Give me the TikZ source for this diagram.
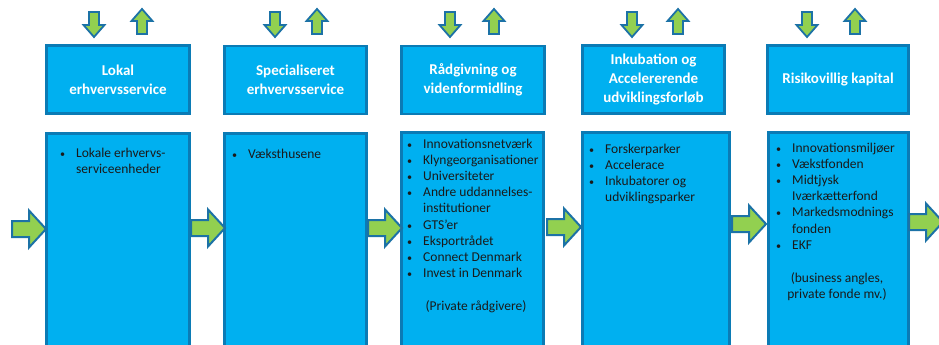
\documentclass[tikz,border=0pt]{standalone}
\usepackage{fontspec}
\setmainfont{Carlito}
\usetikzlibrary{calc}
\definecolor{boxfill}{HTML}{00B0F0}
\definecolor{boxline}{HTML}{0B7BB5}
\definecolor{arrfill}{HTML}{92D050}
\definecolor{arrline}{HTML}{1C72A6}
\definecolor{txt}{HTML}{1A1A1A}
\newcommand{\bul}{\makebox[17pt][l]{\hspace{1pt}\scalebox{0.75}{•}}}
\newcommand{\ind}{\makebox[17pt][l]{}}
\tikzset{
  headbox/.style={draw=boxline, fill=boxfill, line width=2.5pt, minimum height=68pt,
    inner sep=0pt, font=\bfseries\fontsize{15}{19}\selectfont, text=white, align=center},
  listbox/.style={draw=boxline, fill=boxfill, line width=2.5pt, inner sep=0pt},
  listtext/.style={anchor=base west, inner sep=0pt, font=\fontsize{13.5}{16.2}\selectfont,
    text=txt, align=left},
  notetext/.style={anchor=base, inner sep=0pt, font=\fontsize{13.5}{16.5}\selectfont,
    text=txt},
  pics/rarrow/.style={code={
    \draw[line width=2pt, draw=arrline, fill=arrfill, line join=miter]
      (0,-8) -- (17,-8) -- (17,-18.5) -- (34,0) -- (17,18.5) -- (17,8) -- (0,8) -- cycle;}},
  pics/varrow/.style={code={
    \draw[line width=1.8pt, draw=arrline, fill=arrfill, line join=miter]
      (0,-5) -- (13,-5) -- (13,-10.5) -- (25,0) -- (13,10.5) -- (13,5) -- (0,5) -- cycle;}},
}
\begin{document}
\begin{tikzpicture}[x=1pt, y=-1pt]
\useasboundingbox (0,0) rectangle (939,345);
\clip (0,0) rectangle (939,345);

% header boxes
\node[headbox, minimum width=143pt] (h1) at (118,79.5) {Lokal\\erhvervsservice};
\node[headbox, minimum width=142pt] (h2) at (295.5,80) {Specialiseret\\erhvervsservice};
\node[headbox, minimum width=143pt] (h3) at (473,80) {Rådgivning og\\videnformidling};
\node[headbox, minimum width=142pt] (h4) at (653.5,79.5) {Inkubation og\\Accelererende\\udviklingsforløb};
\node[headbox, minimum width=141pt] (h5) at (838,79.5) {Risikovillig kapital};

% list boxes
\node[listbox, minimum width=143pt, minimum height=240pt, anchor=north] (b1) at (118,132) {};
\node[listbox, minimum width=142pt, minimum height=240pt, anchor=north] (b2) at (295.5,132) {};
\node[listbox, minimum width=142pt, minimum height=240pt, anchor=north] (b3) at (472.5,131) {};
\node[listbox, minimum width=147pt, minimum height=240pt, anchor=north] (b4) at (656,131) {};
\node[listbox, minimum width=140pt, minimum height=240pt, anchor=north] (b5) at (838.5,131) {};

% list texts
\node[listtext] (t1) at (59,157) {\begin{tabular}[t]{@{}l@{}}
\bul Lokale erhvervs-\\ \ind serviceenheder\end{tabular}};
\node[listtext] (t2) at (231,158) {\begin{tabular}[t]{@{}l@{}}
\bul Væksthusene\end{tabular}};
\node[listtext] (t3) at (406,148) {\begin{tabular}[t]{@{}l@{}}
\bul Innovationsnetværk\\ \bul Klyngeorganisationer\\ \bul Universiteter\\
\bul Andre uddannelses-\\ \ind institutioner\\ \bul GTS’er\\ \bul Eksportrådet\\
\bul Connect Denmark\\ \bul Invest in Denmark\end{tabular}};
\node[notetext] (n3) at (476,310) {(Private rådgivere)};
\node[listtext] (t4) at (588,153) {\begin{tabular}[t]{@{}l@{}}
\bul Forskerparker\\ \bul Accelerace\\ \bul Inkubatorer og\\ \ind udviklingsparker\end{tabular}};
\node[listtext] (t5) at (775,152) {\begin{tabular}[t]{@{}l@{}}
\bul Innovationsmiljøer\\ \bul Vækstfonden\\ \bul Midtjysk\\ \ind Iværkætterfond\\
\bul Markedsmodnings\\ \ind fonden\\ \bul EKF\end{tabular}};
\node[notetext] (n5) at (837,282) {\begin{tabular}[t]{@{}c@{}}(business angles,\\private fonde mv.)\end{tabular}};

% flow arrows between boxes
\pic at (12,229) {rarrow};
\pic at (191,228) {rarrow};
\pic at (368,228) {rarrow};
\pic at (547,227) {rarrow};
\pic at (732,224) {rarrow};
\pic at (909,222) {rarrow};

% small in/out arrows above header boxes
\foreach \d/\u in {94/142, 275/317, 450/494, 632/678, 807/855}{
  \pic[rotate=-90] at (\d,12) {varrow};
  \pic[rotate=90] at (\u,34) {varrow};
}
\end{tikzpicture}
\end{document}
